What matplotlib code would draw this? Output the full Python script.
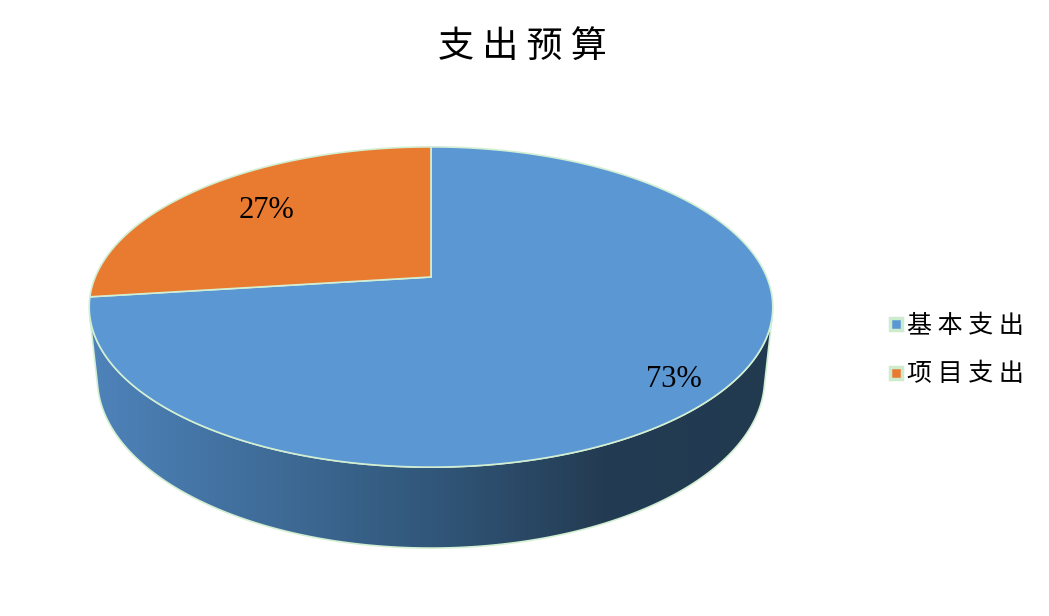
import numpy as np
import matplotlib
matplotlib.use('Agg')
import matplotlib.pyplot as plt
from matplotlib.patches import Polygon
from matplotlib.lines import Line2D
from matplotlib.colors import LinearSegmentedColormap

plt.rcParams['font.family'] = ['Noto Sans CJK SC', 'DejaVu Sans']

# 数据
title = '支 出 预 算'
labels = ['基 本 支 出', '项 目 支 出']
values = [73, 27]
colors = ['#5b97d3', '#e97b30']

edge_c = '#d3efd3'

# 透视参数 (像素坐标)
cx, cy = 431, 277
phi = np.radians(27.4)
D = 4.736
F = 1590
h = 0.242


def proj(X, Y, Z=0.0):
    depth = D + Y * np.cos(phi) - Z * np.sin(phi)
    up = Y * np.sin(phi) + Z * np.cos(phi)
    return cx + F * X / depth, cy - F * up / depth


def arc(t1, t2, Z=0.0, r=1.0, n=200):
    t = np.radians(np.linspace(t1, t2, n))
    return proj(r * np.cos(t), r * np.sin(t), Z)


fig = plt.figure(figsize=(10.49, 6.16), dpi=100)
ax = fig.add_axes([0, 0, 1, 1])
ax.set_xlim(0, 1049)
ax.set_ylim(616, 0)
ax.axis('off')

# 侧面
ts = np.degrees(np.arcsin(1 / (D * np.cos(phi))))
x1, y1 = arc(180 + ts, 360 - ts)
x2, y2 = arc(360 - ts, 180 + ts, Z=-h)
wall_xy = np.column_stack([np.r_[x1, x2], np.r_[y1, y2]])
wall = Polygon(wall_xy, closed=True, facecolor='none', edgecolor=edge_c, lw=1.2, zorder=2)
ax.add_patch(wall)
cmap = LinearSegmentedColormap.from_list('side', [(0, '#4e83ba'), (0.5, '#31577a'),
                                                  (0.75, '#243c53'), (1, '#223a50')])
grad = np.linspace(0, 1, 256).reshape(1, -1)
im = ax.imshow(grad, cmap=cmap, extent=[x1.min(), x1.max(), 600, 250], aspect='auto', zorder=1)
im.set_clip_path(Polygon(wall_xy, closed=True, transform=ax.transData))

# 顶面扇区
start = 90
cum = 0
mids = []
for v, c in zip(values, colors):
    t1 = start - cum * 3.6
    t2 = start - (cum + v) * 3.6
    xs, ys = arc(t1, t2)
    cx0, cy0 = proj(0, 0)
    pts = np.column_stack([np.r_[cx0, xs], np.r_[cy0, ys]])
    ax.add_patch(Polygon(pts, closed=True, facecolor=c, edgecolor=edge_c, lw=1.2, zorder=3))
    mids.append((t1 + t2) / 2)
    cum += v

# 百分比标签
label_r = [0.86, 0.71]
for v, m, r in zip(values, mids, label_r):
    t = np.radians(m)
    lx, ly = proj(r * np.cos(t), r * np.sin(t))
    if v == 73:
        ly += 4
    ax.text(lx, ly, f'{v}%', ha='center', va='center', fontsize=22,
            family='Liberation Serif', color='black', zorder=4)

fig.text(0.4976, 1 - 47 / 616, title, ha='center', va='center', fontsize=26, fontweight='light')

handles = [Line2D([], [], marker='s', ls='', markerfacecolor=c, markeredgecolor='#cdebcd',
                  markersize=9, markeredgewidth=2.5) for c in colors]
leg = fig.legend(handles, labels, loc='center left', bbox_to_anchor=(866 / 1049, 1 - 350 / 616),
                 frameon=False, fontsize=18, handlelength=0.6, handletextpad=0.15, labelspacing=0.9)
for t in leg.get_texts():
    t.set_fontweight('light')

fig.savefig('out.png', dpi=100)
